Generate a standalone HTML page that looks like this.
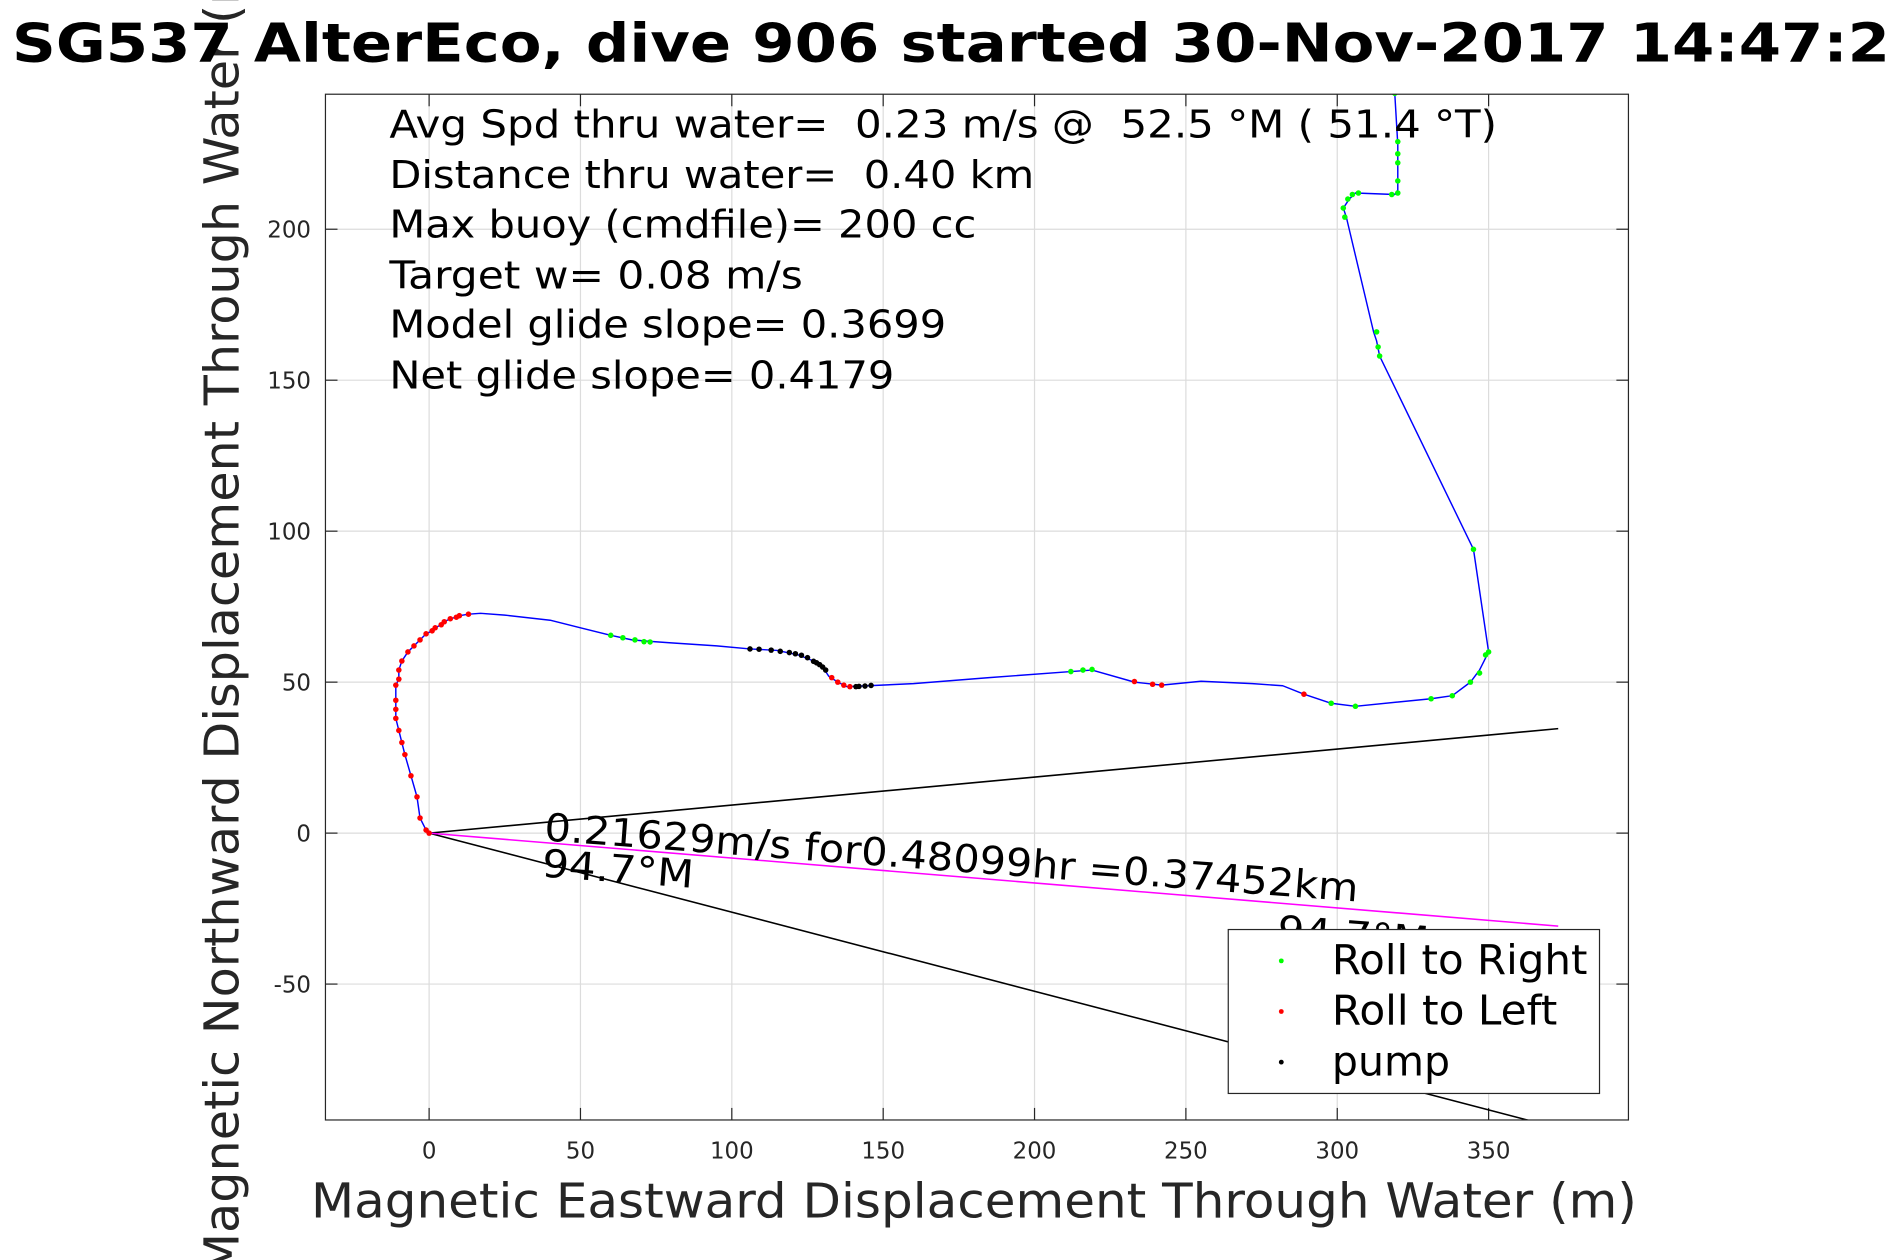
<!DOCTYPE html>
<html><head><meta charset="utf-8"><style>
html,body{margin:0;padding:0;background:#fff;}
svg{display:block;font-family:"DejaVu Sans","Liberation Sans",sans-serif;}
text{white-space:pre;}
</style></head><body>
<svg id="chart" width="1890" height="1260" viewBox="0 0 1568 1045" xmlns="http://www.w3.org/2000/svg" xml:space="preserve">
<rect x="0" y="0" width="1568" height="1045" fill="#fff"/>
<g id="grid"></g>
<g id="ticks"></g>
<defs><clipPath id="clip"><rect x="270" y="78" width="1081" height="851"/></clipPath></defs>
<g id="marks" clip-path="url(#clip)"></g>
<rect x="270" y="78" width="1081" height="851" fill="none" stroke="#262626" stroke-width="1"/>
<text transform="translate(198,503) rotate(-90)" font-size="40" fill="#262626" text-anchor="middle" textLength="1110" lengthAdjust="spacingAndGlyphs">Magnetic Northward Displacement Through Water (m)</text>
<text x="10" y="51" font-weight="bold" font-size="44" textLength="1558" lengthAdjust="spacingAndGlyphs" fill="#000">SG537 AlterEco, dive 906 started 30-Nov-2017 14:47:2</text>
<g font-size="32" fill="#000">
<text x="323" y="114" textLength="919" lengthAdjust="spacingAndGlyphs">Avg Spd thru water=  0.23 m/s @  52.5 °M ( 51.4 °T)</text>
<text x="323" y="156" textLength="535" lengthAdjust="spacingAndGlyphs">Distance thru water=  0.40 km</text>
<text x="323" y="197" textLength="487" lengthAdjust="spacingAndGlyphs">Max buoy (cmdfile)= 200 cc</text>
<text x="323" y="239" textLength="343" lengthAdjust="spacingAndGlyphs">Target w= 0.08 m/s</text>
<text x="323" y="280" textLength="462" lengthAdjust="spacingAndGlyphs">Model glide slope= 0.3699</text>
<text x="323" y="322" textLength="419" lengthAdjust="spacingAndGlyphs">Net glide slope= 0.4179</text>
</g>
<text x="258" y="1010" font-size="40" fill="#262626" textLength="1100" lengthAdjust="spacingAndGlyphs">Magnetic Eastward Displacement Through Water (m)</text>
<g id="legend">
<rect x="1019" y="771" width="308" height="136" fill="#fff" stroke="#262626" stroke-width="1"/>
<circle cx="1063" cy="797" r="2" fill="#00ff00"/>
<text x="1105" y="808" font-size="34" textLength="212" lengthAdjust="spacingAndGlyphs">Roll to Right</text>
<circle cx="1063" cy="839" r="2" fill="#ff0000"/>
<text x="1105" y="850" font-size="34" textLength="187" lengthAdjust="spacingAndGlyphs">Roll to Left</text>
<circle cx="1063" cy="881" r="2" fill="#000"/>
<text x="1105" y="892" font-size="34" textLength="98" lengthAdjust="spacingAndGlyphs">pump</text>
</g>
<script>
const xTicks=[0,50,100,150,200,250,300,350];
const yTicks=[-50,0,50,100,150,200];
const yTickLabels=["-50","0","50","100","150","200"];
const trackX=[0,-1,-3,-4,-6,-8,-9,-10,-11,-11,-11,-11,-10,-10,-9,-7,-5,-3,-1,1,2,4,5,7,9,10,13,17,25,40,50,60,67,73,80,95,106,115,122,127,130,132,135,138,145,160,185,212,219,233,242,255,272,282,289,298,306,331,338,344,347,350,345,314,313,312,303,302,304,306,319,320,320,320,320,319];
const trackY=[0,1,5,12,19,26,30,34,38,41,44,49,51,54,57,60,62,64,66,67,68,69,70,71,71.5,72,72.5,72.8,72.2,70.5,68,65.5,64,63.5,63,62,61,60.5,59,57,55,52,50,48.5,48.8,49.5,51.5,53.5,54,50,49,50.3,49.5,48.8,46,43,42,44.5,45.5,50,54,60,94,158,163,166,204,207,210,212,211.5,213,217,225,228,245];
const greenX=[60,64,68,71,73,212,216,219,298,306,331,338,344,347,349,350,345,313,313.5,314,302,302.5,303.5,305,307,318,320,320,320,320,320,319];
const greenY=[65.5,64.7,64,63.4,63.3,53.5,54,54.2,43,42,44.5,45.5,50,53,59,60,94,166,161,158,207,204,210,211.5,212,211.5,212,216,222,225,229,245];
const redX=[0,-1,-3,-4,-6,-8,-9,-10,-11,-11,-11,-11,-10,-10,-9,-7,-5,-3,-1,1,2,4,5,7,9,10,13,133,135,137,139,233,239,242,289];
const redY=[0,1,5,12,19,26,30,34,38,41,44,49,51,54,57,60,62,64,66,67,68,69,70,71,71.5,72,72.5,51.5,50,49,48.5,50.2,49.3,49,46];
const pumpX=[106,109,113,116,119,121,123,125,127,128,129,130,131,141,142,144,146];
const pumpY=[61,60.9,60.6,60.2,59.8,59.4,58.9,58.1,56.9,56.4,55.8,55,54,48.5,48.6,48.7,48.9];
const lineUpper=[[0,0],[373,34.6]];
const lineLower=[[0,0],[420,-110]];
const lineMagenta=[[0,0],[373,-30.8]];

const sx=v=>356+v*2.5114, sy=v=>691-v*2.505;
const NS="http://www.w3.org/2000/svg";
function mk(tag,parent,attrs){const e=document.createElementNS(NS,tag);for(const k in attrs)e.setAttribute(k,attrs[k]);parent.appendChild(e);return e;}
const grid=document.getElementById('grid'),ticks=document.getElementById('ticks'),marks=document.getElementById('marks');
xTicks.forEach(t=>{
 const g=mk('line',grid,{x1:sx(t),x2:sx(t),y1:78,y2:929,stroke:'#dcdcdc','stroke-width':1});
 
 
 const a=mk('line',ticks,{x1:sx(t),x2:sx(t),y1:929,y2:919,stroke:'#262626'});
 
 
 const b=mk('line',ticks,{x1:sx(t),x2:sx(t),y1:78,y2:88,stroke:'#262626'});
 
 
 const l=mk('text',ticks,{x:sx(t),y:961,'font-size':19,fill:'#262626','text-anchor':'middle'});
 l.textContent=String(t);
 
 
});
yTicks.forEach((t,i)=>{
 const g=mk('line',grid,{x1:270,x2:1351,y1:sy(t),y2:sy(t),stroke:'#dcdcdc','stroke-width':1});
 
 
 const a=mk('line',ticks,{x1:270,x2:280,y1:sy(t),y2:sy(t),stroke:'#262626'});
 
 
 const b=mk('line',ticks,{x1:1341,x2:1351,y1:sy(t),y2:sy(t),stroke:'#262626'});
 
 
 const l=mk('text',ticks,{x:258,y:sy(t)+7,'font-size':19,fill:'#262626','text-anchor':'end'});
 l.textContent=yTickLabels[i];
 
 
});
function seg(arr,col,name){const e=mk('line',marks,{x1:sx(arr[0][0]),y1:sy(arr[0][1]),x2:sx(arr[1][0]),y2:sy(arr[1][1]),stroke:col,'stroke-width':1.3});
 
 }
seg(lineUpper,'#000','upper-bound-line');
seg(lineLower,'#000','lower-bound-line');
seg(lineMagenta,'#ff00ff','current-vector-line');
const tr=mk('polyline',marks,{points:trackX.map((x,i)=>sx(x)+','+sy(trackY[i])).join(' '),fill:'none',stroke:'#0000ff','stroke-width':1.2,'stroke-linejoin':'round'});


function dots(xs,ys,col,name){xs.forEach((x,i)=>{const c=mk('circle',marks,{cx:sx(x),cy:sy(ys[i]),r:2.3,fill:col});
 
 });}
dots(greenX,greenY,'#00ff00','roll-right-point');
dots(redX,redY,'#ff0000','roll-left-point');
dots(pumpX,pumpY,'#000','pump-point');
const t1=mk('text',marks,{transform:'translate(451,697) rotate(4.3)','font-size':32,fill:'#000',textLength:677,lengthAdjust:'spacingAndGlyphs'});
t1.textContent='0.21629m/s for0.48099hr =0.37452km';


const t2=mk('text',marks,{transform:'translate(449,727) rotate(4.3)','font-size':32,fill:'#000',textLength:126,lengthAdjust:'spacingAndGlyphs'});
t2.textContent='94.7°M';


const t3=mk('text',marks,{transform:'translate(1059,782) rotate(4.3)','font-size':32,fill:'#000',textLength:126,lengthAdjust:'spacingAndGlyphs'});
t3.textContent='94.7°M';


document.getElementById('chart').appendChild(document.getElementById('legend'));
</script>
</svg>
</body></html>
